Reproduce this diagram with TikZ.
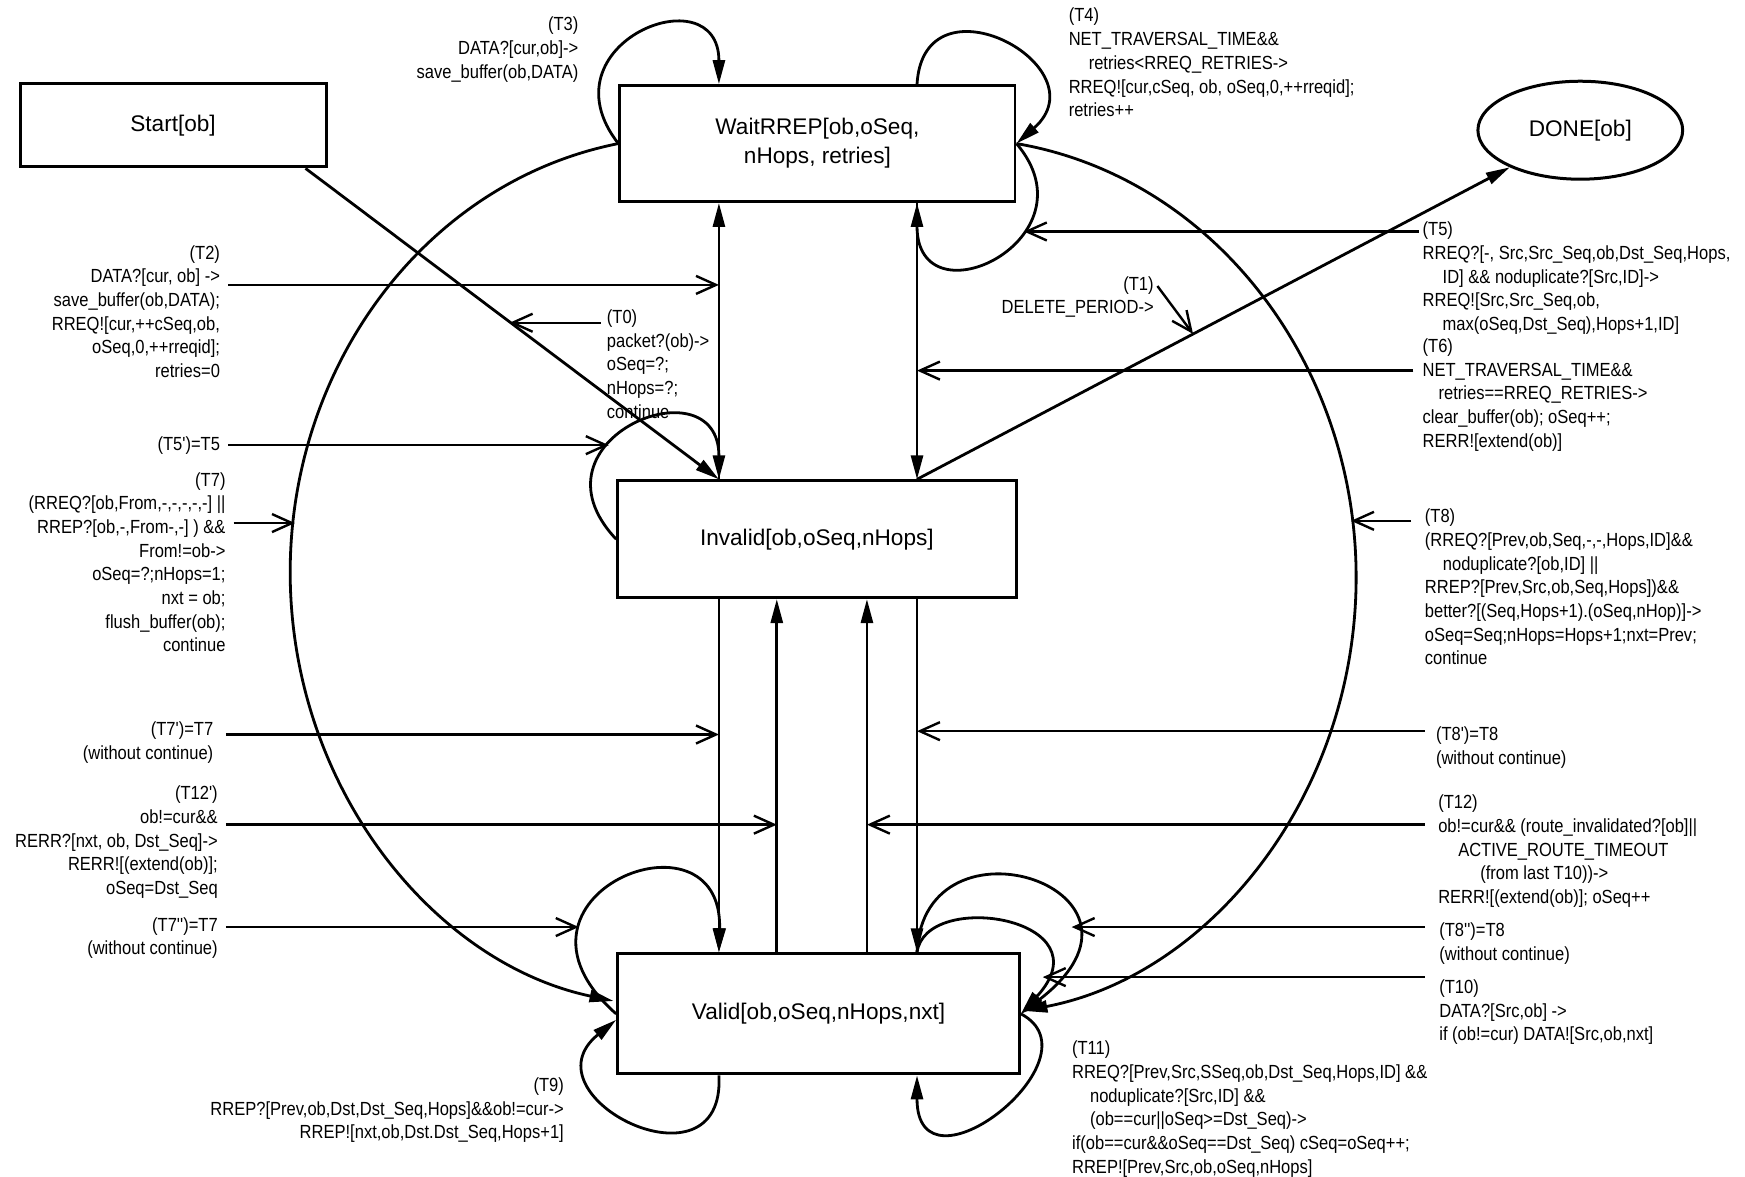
\documentclass[tikz,border=0pt]{standalone}
\usepackage{fontspec}
\setmainfont{Liberation Sans}
\newfontfamily\lblfont[FakeStretch=0.87]{Liberation Sans}
\usetikzlibrary{shapes.geometric,arrows.meta}

\begin{document}
\begin{tikzpicture}[
  x=0.5565pt, y=-0.5565pt,
  statebox/.style={draw,line width=1.5pt,inner sep=0pt,align=center,font=\fontsize{11.3}{14.5}\selectfont},
  trans/.style={line width=1.4pt,-{Triangle[length=12pt,width=6pt]}},
  ptr/.style={line width=1.2pt,-{Straight Barb[length=10pt,width=9pt]}},
  lbl/.style={inner sep=0pt,font=\lblfont\fontsize{9.5}{11.85}\selectfont},
  lblr/.style={lbl,align=right},
  lbll/.style={lbl,align=left}
]
\useasboundingbox (0,0) rectangle (1568,1057);

\node[statebox,minimum width=153pt,minimum height=41.7pt] (start) at (155.5,112.5) {Start[ob]};
\node[statebox,minimum width=197.6pt,minimum height=57.9pt] (wait) at (734.5,129) {WaitRREP[ob,oSeq,\\nHops, retries]};
\node[statebox,ellipse,minimum width=102.4pt,minimum height=49pt] (done) at (1420,117) {DONE[ob]};
\node[statebox,minimum width=199.2pt,minimum height=58.4pt] (inv) at (734,484.5) {Invalid[ob,oSeq,nHops]};
\node[statebox,minimum width=200.9pt,minimum height=60.1pt] (valid) at (735.5,911) {Valid[ob,oSeq,nHops,nxt]};

\coordinate (xa) at (646,0);
\coordinate (xb) at (698,0);
\coordinate (xc) at (779,0);
\coordinate (xd) at (824,0);

\draw[trans] ([xshift=-11pt]start.south east) -- (inv.north -| xa);
\draw[trans] (inv.north -| xa) -- (wait.south -| xa);
\draw[trans] (wait.south -| xd) -- (inv.north -| xd);
\draw[trans] (inv.north -| xd) -- (done);
\draw[trans] (inv.south -| xa) -- (valid.north -| xa);
\draw[trans] (valid.north -| xb) -- (inv.south -| xb);
\draw[trans] (valid.north -| xc) -- (inv.south -| xc);
\draw[trans] (inv.south -| xd) -- (valid.north -| xd);

\draw[trans] (wait.west) arc[start angle=259.7,end angle=101,x radius=359,y radius=392];
\draw[trans] (wait.east) arc[start angle=-81.1,end angle=80.1,x radius=361,y radius=395];

\draw[trans] (wait.west) .. controls +(-70,-90) and +(0,-100) .. (wait.north -| xa);
\draw[trans] (wait.north -| xd) .. controls +(6,-102) and +(78,-69) .. (wait.east);
\draw[trans] (wait.east) .. controls +(73,86) and +(0,110) .. (wait.south -| xd);
\draw[trans] (inv.west) .. controls +(-85,-90) and +(0,-107) .. (inv.north -| xa);
\draw[trans] (valid.west) .. controls +(-120,-106) and +(4,-137) .. (valid.north -| xa);
\draw[trans] (valid.south -| xa) .. controls +(6,110) and +(-85,69) .. ([yshift=-3pt]valid.west);
\draw[trans] (valid.north -| xd) .. controls +(6,-132) and +(144,-111) .. (valid.east);
\draw[trans] (valid.north -| xd) .. controls +(8,-57) and +(79,-86) .. (valid.east);
\draw[trans] (valid.east) .. controls +(74,39) and +(0,115) .. (valid.south -| xd);

\node[lblr,anchor=north east] (t3) at (520,15) {(T3)\\DATA?[cur,ob]->\\save\_buffer(ob,DATA)};
\node[lbll,anchor=north west] (t4) at (960,7) {(T4)\\NET\_TRAVERSAL\_TIME\&\&\\\hspace*{10pt}retries<RREQ\_RETRIES->\\RREQ![cur,cSeq, ob, oSeq,0,++rreqid];\\retries++};
\node[lblr,anchor=north east] (t2) at (198,220) {(T2)\\DATA?[cur, ob] ->\\save\_buffer(ob,DATA);\\RREQ![cur,++cSeq,ob,\\oSeq,0,++rreqid];\\retries=0};
\node[lbll,anchor=north west] (t0) at (545,278) {(T0)\\packet?(ob)->\\oSeq=?;\\nHops=?;\\continue};
\node[lblr,anchor=north east] (t1) at (1037,248) {(T1)\\DELETE\_PERIOD->};
\node[lbll,anchor=north west] (t5) at (1278,199) {(T5)\\RREQ?[-, Src,Src\_Seq,ob,Dst\_Seq,Hops,\\\hspace*{10pt}ID] \&\& noduplicate?[Src,ID]->\\RREQ![Src,Src\_Seq,ob,\\\hspace*{10pt}max(oSeq,Dst\_Seq),Hops+1,ID]};
\node[lbll,anchor=north west] (t6) at (1278,304) {(T6)\\NET\_TRAVERSAL\_TIME\&\&\\\hspace*{8pt}retries==RREQ\_RETRIES->\\clear\_buffer(ob); oSeq++;\\RERR![extend(ob)]};
\node[lblr,anchor=east] (t5b) at (198,400) {(T5')=T5};
\node[lblr,anchor=north east] (t7) at (203,424) {(T7)\\(RREQ?[ob,From,-,-,-,-,-] ||\\RREP?[ob,-,From-,-] ) \&\&\\From!=ob->\\oSeq=?;nHops=1;\\nxt = ob;\\flush\_buffer(ob);\\continue};
\node[lbll,anchor=north west] (t8) at (1280,457) {(T8)\\(RREQ?[Prev,ob,Seq,-,-,Hops,ID]\&\&\\\hspace*{9pt}noduplicate?[ob,ID] ||\\RREP?[Prev,Src,ob,Seq,Hops])\&\&\\better?[(Seq,Hops+1).(oSeq,nHop)]->\\oSeq=Seq;nHops=Hops+1;nxt=Prev;\\continue};
\node[lblr,anchor=north east] (t7b) at (192,648) {(T7')=T7\\(without continue)};
\node[lbll,anchor=north west] (t8b) at (1290,653) {(T8')=T8\\(without continue)};
\node[lblr,anchor=north east] (t12b) at (196,706) {(T12')\\ob!=cur\&\&\\RERR?[nxt, ob, Dst\_Seq]->\\RERR![(extend(ob)];\\oSeq=Dst\_Seq};
\node[lbll,anchor=north west] (t12) at (1292,714) {(T12)\\ob!=cur\&\& (route\_invalidated?[ob]||\\\hspace*{10pt}ACTIVE\_ROUTE\_TIMEOUT\\\hspace*{21pt}(from last T10))->\\RERR![(extend(ob)]; oSeq++};
\node[lblr,anchor=north east] (t7c) at (196,824) {(T7'')=T7\\(without continue)};
\node[lbll,anchor=north west] (t8c) at (1293,829) {(T8'')=T8\\(without continue)};
\node[lbll,anchor=north west] (t10) at (1293,880) {(T10)\\DATA?[Src,ob] ->\\if (ob!=cur) DATA![Src,ob,nxt]};
\node[lbll,anchor=north west] (t11) at (963,935) {(T11)\\RREQ?[Prev,Src,SSeq,ob,Dst\_Seq,Hops,ID] \&\&\\\hspace*{9pt}noduplicate?[Src,ID] \&\&\\\hspace*{9pt}(ob==cur||oSeq>=Dst\_Seq)->\\if(ob==cur\&\&oSeq==Dst\_Seq) cSeq=oSeq++;\\RREP![Prev,Src,ob,oSeq,nHops]};
\node[lblr,anchor=north east] (t9) at (507,968) {(T9)\\RREP?[Prev,ob,Dst,Dst\_Seq,Hops]\&\&ob!=cur->\\RREP![nxt,ob,Dst.Dst\_Seq,Hops+1]};

\coordinate (a2) at (205,256);
\coordinate (a0) at (540,290);
\coordinate (b0) at (458,290);
\coordinate (a5b) at (205,400);
\coordinate (b5b) at (547,400);
\coordinate (a7) at (210,470);
\coordinate (b7) at (265,470);
\coordinate (a7b) at (203,660);
\coordinate (a12b) at (203,741);
\coordinate (a7c) at (203,833);
\coordinate (b7c) at (520,833);
\coordinate (a5) at (1275,208);
\coordinate (b5) at (920,208);
\coordinate (a6) at (1270,333);
\coordinate (a1) at (1040,257);
\coordinate (b1) at (1072,300);
\coordinate (a8) at (1268,468);
\coordinate (b8) at (1214,468);
\coordinate (a8b) at (1280,657);
\coordinate (a12) at (1280,741);
\coordinate (a8c) at (1280,833);
\coordinate (b8c) at (963,833);
\coordinate (a10) at (1280,878);
\coordinate (b10) at (937,878);

\draw[ptr] (a2) -- (a2 -| xa);
\draw[ptr] (a0) -- (b0);
\draw[ptr] (a5b) -- (b5b);
\draw[ptr] (a7) -- (b7);
\draw[ptr] (a7b) -- (a7b -| xa);
\draw[ptr] (a12b) -- (a12b -| xb);
\draw[ptr] (a7c) -- (b7c);
\draw[ptr] (a5) -- (b5);
\draw[ptr] (a6) -- (a6 -| xd);
\draw[ptr] (a1) -- (b1);
\draw[ptr] (a8) -- (b8);
\draw[ptr] (a8b) -- (a8b -| xd);
\draw[ptr] (a12) -- (a12 -| xc);
\draw[ptr] (a8c) -- (b8c);
\draw[ptr] (a10) -- (b10);
\end{tikzpicture}
\end{document}
